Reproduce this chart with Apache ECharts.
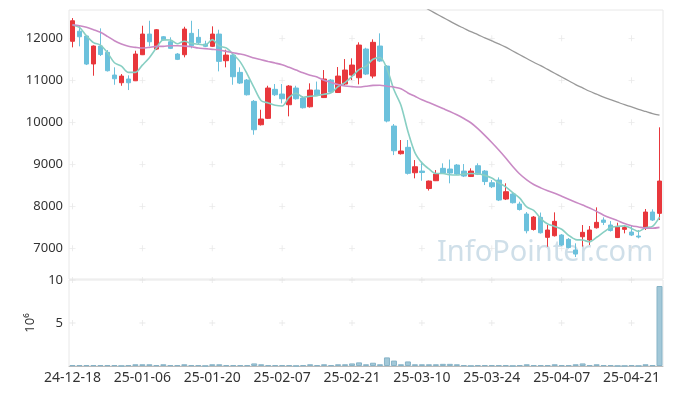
<!DOCTYPE html>
<html><head><meta charset="utf-8">
<script src="https://cdn.jsdelivr.net/npm/echarts@6/dist/echarts.min.js"></script>
<style>html,body{margin:0;padding:0;background:#fff}#c{width:673px;height:396px}</style>
</head><body><div id="c"></div>
<script>
const dates = ['24-12-18','24-12-19','24-12-20','24-12-23','24-12-24','24-12-26','24-12-27','24-12-30','25-01-02','25-01-03',
'25-01-06','25-01-07','25-01-08','25-01-09','25-01-10','25-01-13','25-01-14','25-01-15','25-01-16','25-01-17',
'25-01-20','25-01-21','25-01-22','25-01-23','25-01-24','25-01-31','25-02-03','25-02-04','25-02-05','25-02-06',
'25-02-07','25-02-10','25-02-11','25-02-12','25-02-13','25-02-14','25-02-17','25-02-18','25-02-19','25-02-20',
'25-02-21','25-02-24','25-02-25','25-02-26','25-02-27','25-02-28','25-03-04','25-03-05','25-03-06','25-03-07',
'25-03-10','25-03-11','25-03-12','25-03-13','25-03-14','25-03-17','25-03-18','25-03-19','25-03-20','25-03-21',
'25-03-24','25-03-25','25-03-26','25-03-27','25-03-28','25-03-31','25-04-01','25-04-02','25-04-03','25-04-04',
'25-04-07','25-04-08','25-04-09','25-04-10','25-04-11','25-04-14','25-04-15','25-04-16','25-04-17','25-04-18',
'25-04-21','25-04-22','25-04-23','25-04-24','25-04-25'];

const opens = [11930,12170,12055,11390,11817,11667,11126,10943,11031,10990,
11610,12102,11745,12038,11919,11626,11610,12119,12024,11864,
11810,12102,11467,11602,11190,11007,10500,9943,10095,10786,
10674,10419,10817,10579,10371,10769,10590,11007,10710,10912,
11126,11062,11745,11102,11817,11340,9912,9253,9405,8800,
8840,8424,8610,8905,8888,8983,8840,8710,8967,8840,
8562,8626,8174,8293,8055,7817,7448,7738,7262,7300,
7317,7214,6960,7276,7198,7490,7674,7555,7257,7452,
7388,7293,7500,7864,7833];

const closes = [12419,12038,11388,11817,11614,11229,11038,11102,10943,11626,
12102,11919,12205,11967,11762,11500,12221,11824,11895,11810,
12102,11452,11602,11086,10936,10657,9824,10079,10817,10657,
10562,10864,10562,10348,10769,10643,11031,10721,11102,11245,
11364,11840,11150,11905,11460,10031,9324,9317,8786,8943,
8805,8602,8769,8793,8793,8769,8721,8840,8764,8590,
8467,8150,8348,8086,7924,7419,7745,7371,7436,7643,
7079,7019,6864,7381,7436,7619,7619,7424,7514,7495,
7317,7270,7864,7674,8602];

const lows = [11786,11810,11364,11110,11579,11210,10895,10871,10769,10983,
11602,11810,11721,11948,11745,11483,11548,11762,11864,11793,
11793,11214,11310,10895,10912,10638,9705,9924,10079,10626,
10452,10143,10543,10329,10352,10626,10579,10698,10698,10888,
11007,10905,11126,11048,11436,10000,9221,9233,8757,8667,
8610,8376,8602,8769,8548,8745,8698,8698,8745,8507,
8436,8126,8150,8067,7900,7357,7424,7352,7038,7281,
7055,7000,6793,7043,7079,7471,7555,7400,7245,7357,
7293,7238,7436,7650,7674];

const highs = [12483,12300,12079,11833,12238,11721,11310,11150,11119,11705,
12300,12419,12221,12055,12024,11650,12276,12419,12221,11943,
12286,12205,11729,11626,11310,11031,10531,10300,10871,10912,
10912,10888,10871,10626,10929,10971,11245,11031,11317,11507,
11524,11905,11776,11976,12119,11364,9960,9579,9579,9102,
9062,8614,8864,9024,9114,9007,9007,8905,9024,8864,
8626,8690,8548,8317,8110,7864,7769,7852,7555,7857,
7340,7245,7119,7555,7531,7976,7738,7650,7610,7555,
7555,7436,7936,7929,9881];

const ma5 = [12320,12260,12060,11900,11840,11660,11420,11340,11190,11190,
11362,11540,11770,11964,11960,11870,11931,11880,11860,11840,
11970,11817,11772,11620,11440,11150,10821,10516,10463,10407,
10388,10596,10692,10599,10621,10637,10671,10702,10853,10948,
11093,11254,11340,11501,11544,11277,10774,10407,9784,9280,
9035,8891,8781,8782,8752,8745,8769,8783,8777,8737,
8676,8562,8464,8328,8195,7985,7904,7709,7579,7523,
7455,7310,7208,7197,7156,7264,7384,7496,7522,7534,
7474,7404,7492,7524,7745];

const ma20 = [12324,12300,12262,12205,12143,12048,11943,11864,11810,11786,
11769,11786,11810,11810,11824,11824,11815,11800,11770,11755,
11738,11721,11690,11655,11626,11586,11531,11490,11450,11412,
11370,11310,11245,11180,11120,11080,11000,10950,10900,10865,
10850,10840,10860,10880,10885,10860,10840,10800,10700,10620,
10540,10470,10400,10330,10260,10180,10090,9990,9850,9690,
9520,9340,9150,8950,8770,8630,8520,8440,8370,8310,
8240,8170,8100,8030,7960,7880,7790,7720,7660,7590,
7540,7510,7480,7480,7500];

const ma60 = [null,null,null,null,null,null,null,null,null,null,
null,null,null,null,null,null,null,null,null,null,
null,null,null,null,null,null,null,null,null,null,
null,null,null,null,null,null,null,null,null,null,
null,null,null,null,null,null,null,null,null,null,
12790,12680,12590,12500,12410,12320,12240,12160,12090,12010,
11940,11870,11790,11700,11610,11520,11430,11350,11260,11170,
11080,10990,10900,10820,10740,10670,10600,10540,10480,10420,
10370,10310,10260,10210,10170];

const volumes = [100000,100000,100000,100000,100000,100000,100000,20000,100000,200000,
200000,200000,100000,200000,100000,100000,200000,100000,100000,20000,
200000,200000,100000,100000,100000,100000,300000,200000,100000,100000,
100000,100000,20000,100000,200000,100000,200000,100000,200000,200000,
300000,420000,200000,380000,200000,1000000,630000,200000,530000,200000,
200000,200000,200000,250000,250000,200000,100000,20000,100000,100000,
100000,100000,100000,20000,100000,200000,100000,100000,100000,200000,
100000,100000,200000,300000,100000,200000,100000,100000,20000,20000,
100000,20000,200000,100000,9300000];

const priceTicks = [7000,8000,9000,10000,11000,12000];
const volTicks = [5000000,10000000];
const labelIdx = [0,10,20,30,40,50,60,70,80];

const FONT = 'Noto Sans';
const chart = echarts.init(document.getElementById('c'));
const plus = 'path://M3,0H4V3H7V4H4V7H3V4H0V3H3Z';
const crossMain = [], crossVol = [];
labelIdx.forEach(i => { priceTicks.forEach(v => crossMain.push([i, v])); volTicks.forEach(v => crossVol.push([i, v])); });
const candleData = dates.map((d, i) => [opens[i], closes[i], lows[i], highs[i]]);

chart.setOption({
  animation: false,
  grid: [
    {left: 69, right: 10, top: 10, height: 269, show: true, borderColor: '#e8e8e8', borderWidth: 1, backgroundColor: 'transparent'},
    {left: 69, right: 10, top: 280, height: 86, show: true, borderColor: '#e8e8e8', borderWidth: 1, backgroundColor: 'transparent'}
  ],
  graphic: [{
    type: 'text', left: 437, top: 238, z: 0,
    style: {text: 'InfoPointer.com', font: '29px "Noto Sans"', fill: 'rgba(160,192,212,0.5)'}
  }],
  xAxis: [
    {type: 'category', data: dates, gridIndex: 0, axisLine: {show: false}, axisTick: {show: false}, axisLabel: {show: false}, splitLine: {show: false}},
    {type: 'category', data: dates, gridIndex: 1, axisLine: {lineStyle: {color: '#bbb'}}, axisTick: {show: false},
     axisLabel: {interval: 9, color: '#333', fontSize: 14, fontFamily: FONT, margin: 5}, splitLine: {show: false}}
  ],
  yAxis: [
    {type: 'value', gridIndex: 0, min: 6270, max: 12675, axisLine: {show: false}, axisTick: {show: false}, splitLine: {show: false},
     axisLabel: {customValues: priceTicks, formatter: v => String(v), color: '#333', fontSize: 13, fontFamily: FONT, margin: 6}},
    {type: 'value', gridIndex: 1, min: 0, max: 10000000, axisLine: {show: false}, axisTick: {show: false}, splitLine: {show: false},
     name: '10⁶', nameLocation: 'middle', nameGap: 30, nameRotate: 90, nameTextStyle: {color: '#333', fontSize: 13, fontFamily: FONT},
     axisLabel: {customValues: volTicks, formatter: v => String(v / 1000000), color: '#333', fontSize: 13, fontFamily: FONT, margin: 6}}
  ],
  series: [
    {type: 'scatter', xAxisIndex: 0, yAxisIndex: 0, data: crossMain, symbol: plus, symbolSize: 6, silent: true, z: 1,
     itemStyle: {color: '#e3e3e3'}},
    {type: 'scatter', xAxisIndex: 1, yAxisIndex: 1, data: crossVol, symbol: plus, symbolSize: 6, silent: true, z: 1,
     itemStyle: {color: '#e3e3e3'}},
    {type: 'candlestick', xAxisIndex: 0, yAxisIndex: 0, data: candleData, barWidth: 5, z: 3,
     itemStyle: {color: '#e8373c', color0: '#6cc1dc', borderColor: '#e8373c', borderColor0: '#6cc1dc', borderWidth: 1}},
    {type: 'line', xAxisIndex: 0, yAxisIndex: 0, data: ma5, showSymbol: false, smooth: 0.3, z: 4,
     lineStyle: {color: '#88cfc3', width: 1.6}},
    {type: 'line', xAxisIndex: 0, yAxisIndex: 0, data: ma20, showSymbol: false, smooth: 0.3, z: 4,
     lineStyle: {color: '#c98ac5', width: 1.6}},
    {type: 'line', xAxisIndex: 0, yAxisIndex: 0, data: ma60, showSymbol: false, smooth: 0.3, z: 4,
     lineStyle: {color: '#999999', width: 1.3}},
    {type: 'bar', xAxisIndex: 1, yAxisIndex: 1, data: volumes, barWidth: 6, z: 3,
     itemStyle: {color: '#a2c8d8', borderColor: '#86b3c7', borderWidth: 1}}
  ]
});
</script></body></html>
